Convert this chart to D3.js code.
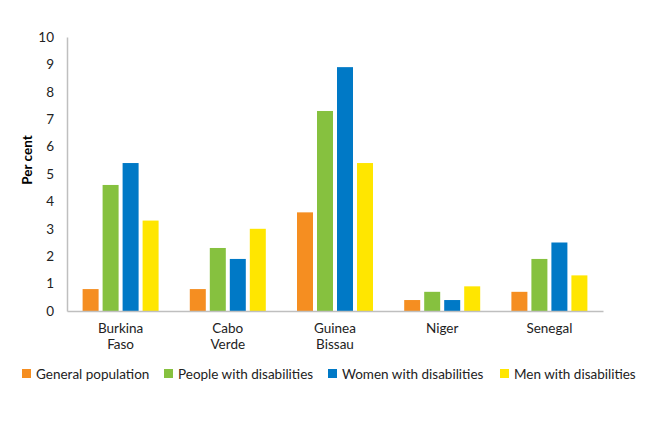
<!DOCTYPE html>
<html><head><meta charset="utf-8">
<script src="https://cdn.jsdelivr.net/npm/d3@7"></script>
<style>body{margin:0;background:#fff;} text{font-family:Lato,"Open Sans",sans-serif;}</style>
</head><body><svg id="c" width="670" height="431"></svg>
<script>
const categories = [["Burkina","Faso"],["Cabo","Verde"],["Guinea","Bissau"],["Niger"],["Senegal"]];
const seriesNames = ["General population","People with disabilities","Women with disabilities","Men with disabilities"];
const seriesColors = ["#F58E21","#86C13F","#0079C6","#FFE600"];
const generalPopulation = [0.8,0.8,3.6,0.4,0.7];
const peopleWithDisabilities = [4.6,2.3,7.3,0.7,1.9];
const womenWithDisabilities = [5.4,1.9,8.9,0.4,2.5];
const menWithDisabilities = [3.3,3.0,5.4,0.9,1.3];
const yTicks = [0,1,2,3,4,5,6,7,8,9,10];
const seriesValues = [generalPopulation,peopleWithDisabilities,womenWithDisabilities,menWithDisabilities];

const svg = d3.select("#c");
const mLeft=67, mRight=603, mTop=37, mBottom=311;
const catKeys = categories.map(c=>c.join(" "));
const x0 = d3.scaleBand().domain(catKeys).range([mLeft,mRight]).padding(0);
const x1 = d3.scaleBand().domain(seriesNames).range([-38,38]).paddingInner(0.2).paddingOuter(0);
const y = d3.scaleLinear().domain([0,10]).range([mBottom,mTop]);
const fs = 13.5;

// bars
seriesNames.forEach((s,si)=>{
  svg.append("g").selectAll("rect").data(seriesValues[si]).join("rect")
    .attr("x",(d,i)=>x0(catKeys[i])+x0.bandwidth()/2+x1(s))
    .attr("width",x1.bandwidth())
    .attr("y",d=>y(d))
    .attr("height",d=>y(0)-y(d))
    .attr("fill",seriesColors[si]);
});

// y axis
const ya = svg.append("g").attr("transform",`translate(${mLeft},0)`)
  .call(d3.axisLeft(y).tickValues(yTicks).tickSize(0).tickPadding(13).tickFormat(d3.format("d")));
ya.select(".domain").attr("stroke","#BFBFBF").attr("stroke-width",1.5);
ya.selectAll("text").attr("font-size",fs).attr("fill","#222").style("font-family","Lato,sans-serif");

// x axis
const xa = svg.append("g").attr("transform",`translate(0,${mBottom})`)
  .call(d3.axisBottom(x0).tickSize(0).tickFormat(""));
xa.select(".domain").attr("stroke","#BFBFBF").attr("stroke-width",1.5);
xa.selectAll(".tick text").remove();
categories.forEach((c,i)=>{
  const cx = x0(catKeys[i])+x0.bandwidth()/2;
  const t = svg.append("text").attr("x",cx).attr("y",333)
    .attr("text-anchor","middle").attr("font-size",fs).attr("fill","#222");
  c.forEach((line,li)=>t.append("tspan").attr("x",cx).attr("dy",li?16:0).text(line));
});

// y title
svg.append("text").attr("transform","translate(32,160) rotate(-90)").attr("text-anchor","middle")
  .attr("font-size",13.5).attr("font-weight","bold").attr("fill","#000").text("Per cent");

// legend
const legX = [22,164,328,500];
seriesNames.forEach((s,i)=>{
  svg.append("rect").attr("x",legX[i]).attr("y",369).attr("width",9).attr("height",9).attr("fill",seriesColors[i]);
  svg.append("text").attr("x",legX[i]+14).attr("y",379).attr("font-size",fs).attr("fill","#222").text(s);
});
</script></body></html>
